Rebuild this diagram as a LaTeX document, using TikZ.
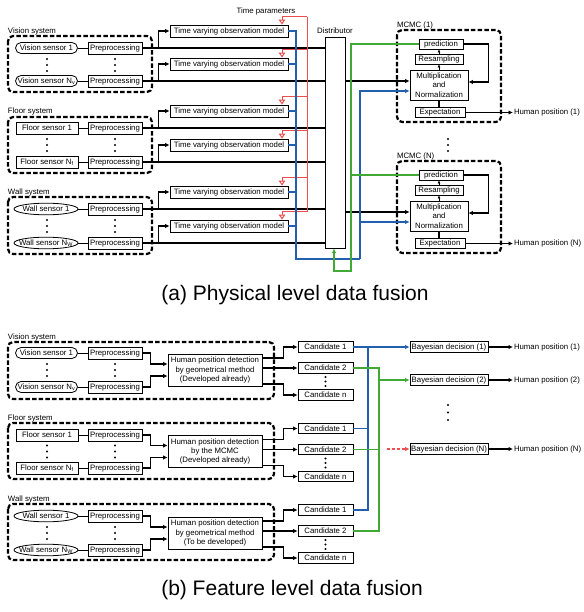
\documentclass[tikz,border=0pt]{standalone}
\usepackage{fontspec}
\setmainfont{Liberation Sans}
\usetikzlibrary{arrows.meta}
\definecolor{lnblue}{RGB}{35,95,175}
\definecolor{lngreen}{RGB}{65,170,55}
\definecolor{lnred}{RGB}{238,78,78}
\begin{document}
\begin{tikzpicture}[x=1pt,y=-1pt,
 every node/.style={font=\fontsize{7.8}{9.3}\selectfont, inner sep=0.8pt},
 box/.style={draw, line width=0.8pt, fill=white, minimum height=11pt},
 ppbox/.style={box, minimum width=54pt, minimum height=12pt},
 tvbox/.style={box, minimum width=118pt, minimum height=12pt},
 vsens/.style={box, rounded corners=5.5pt, minimum width=62pt},
 fsens/.style={box, minimum width=62pt, minimum height=12pt},
 wsens/.style={minimum width=64pt, minimum height=11pt},
 cand/.style={box, minimum width=55pt, minimum height=10.5pt},
 bayes/.style={box, minimum width=78pt, minimum height=10.5pt},
 detbox/.style={box, minimum width=94pt, minimum height=32pt, align=center},
 sysbox/.style={draw, line width=2.2pt, dash pattern=on 4.5pt off 2.2pt, rounded corners=5pt},
 syslabel/.style={anchor=west},
 thin/.style={line width=0.9pt},
 conn/.style={line width=1.1pt},
 arr/.style={conn, -{Latex[length=4.5pt,width=4.5pt]}},
 sarr/.style={line width=0.8pt, -{Latex[length=3pt,width=3pt]}},
 bline/.style={lnblue, line width=1.2pt},
 barr/.style={bline, -{Latex[length=4.5pt,width=4.5pt]}},
 gline/.style={lngreen, line width=1.2pt},
 garr/.style={gline, -{Latex[length=4.5pt,width=4.5pt]}},
 rline/.style={lnred, line width=1pt},
 rarr/.style={rline, -{Triangle[open,length=5pt,width=6.5pt]}},
 rdash/.style={lnred, line width=1.3pt, dash pattern=on 3pt off 2pt, -{Latex[length=4.5pt,width=4.5pt]}},
 title/.style={font=\fontsize{21}{25}\selectfont},
]
\useasboundingbox (0,0) rectangle (583,612);

% ================= (a) =================
% Vision
\node[syslabel] (avl) at (7,31) {Vision system};
\draw[sysbox] (8,36) rectangle (152,92);
\node[vsens] (avs1) at (46.5,48) {Vision sensor 1};
\node[ppbox] (avp1) at (115,48) {Preprocessing};
\node[vsens] (avs2) at (46.5,81) {Vision sensor N\textsubscript{v}};
\node[ppbox] (avp2) at (115,81) {Preprocessing};
% Floor
\node[syslabel] (afl) at (7,111) {Floor system};
\draw[sysbox] (8,117) rectangle (152,173);
\node[fsens] (afs1) at (47,128) {Floor sensor 1};
\node[ppbox] (afp1) at (115,128) {Preprocessing};
\node[fsens] (afs2) at (47,162) {Floor sensor N\textsubscript{f}};
\node[ppbox] (afp2) at (115,162) {Preprocessing};
% Wall
\node[syslabel] (awl) at (7,192) {Wall system};
\draw[sysbox] (8,197) rectangle (152,254);
\node[wsens] (aws1) at (46,209) {Wall sensor 1};
\node[ppbox] (awp1) at (115,209) {Preprocessing};
\node[wsens] (aws2) at (46,243) {Wall sensor N\textsubscript{W}};
\node[ppbox] (awp2) at (115,243) {Preprocessing};
\draw[line width=0.8pt] (aws1.center) ellipse [x radius=32pt, y radius=5.8pt];
\draw[line width=0.8pt] (aws2.center) ellipse [x radius=32pt, y radius=5.8pt];

\foreach \s/\p in {avs1/avp1,avs2/avp2,afs1/afp1,afs2/afp2,aws1/awp1,aws2/awp2}
  \draw[thin] (\s) -- (\p);
\foreach \yy in {59,65,71,139,145,151,220,226,232} {
  \fill (47,\yy) circle[radius=1.1pt];
  \fill (115,\yy) circle[radius=1.1pt];
}

% time varying observation models
\node[tvbox] (t1) at (229,31) {Time varying observation model};
\node[tvbox] (t2) at (229,64) {Time varying observation model};
\node[tvbox] (t3) at (229,111) {Time varying observation model};
\node[tvbox] (t4) at (229,145) {Time varying observation model};
\node[tvbox] (t5) at (229,192) {Time varying observation model};
\node[tvbox] (t6) at (229,226) {Time varying observation model};

% distributor
\node[box, minimum width=20pt, minimum height=211pt] (dist) at (335,142.5) {};
\node (distl) at (335,31) {Distributor};

\foreach \p in {avp1,avp2,afp1,afp2,awp1,awp2}
  \draw[conn] (\p.east) -- (\p.east -| dist.west);
\foreach \p/\t in {avp1/t1,avp2/t2,afp1/t3,afp2/t4,awp1/t5,awp2/t6}
  \draw[arr] ([xshift=16pt]\p.east) |- (\t.west);

% time parameters (red)
\node (tp) at (266,11) {Time parameters};
\coordinate (rtop) at (307,17);
\coordinate (rbot) at (307,212);
\draw[rline] (rtop) -- (rbot);
\foreach \t/\yy in {t1/17,t2/50,t3/97,t4/131,t5/178,t6/212}
  \draw[rarr] (307,\yy) -| ([xshift=53pt]\t.north);

% MCMC blocks
\foreach \i/\dy in {1/0,N/131} {
  \draw[sysbox] (397,{30+\dy}) rectangle (501,{122+\dy});
  \node[syslabel] (ml\i) at (396,{25+\dy}) {MCMC (\i)};
  \node[box, minimum width=44pt, minimum height=10pt] (p\i) at (441,{44+\dy}) {prediction};
  \node[box, minimum width=48pt, minimum height=10pt] (r\i) at (439,{59+\dy}) {Resampling};
  \node[box, minimum width=58pt, minimum height=30pt, align=center] (m\i) at (439,{85+\dy}) {Multiplication\\and\\Normalization};
  \node[box, minimum width=50pt, minimum height=10pt] (e\i) at (440,{112.5+\dy}) {Expectation};
  \node[anchor=west] (h\i) at (513,{112.5+\dy}) {Human position (\i)};
  \draw[sarr] (m\i.north) -- (r\i.south);
  \draw[sarr] (r\i.north) -- (r\i.north |- p\i.south);
  \draw[arr] (p\i.east) -- ++(25,0) |- ([yshift=3pt]m\i.east);
  \draw[conn] (m\i.south) -- (m\i.south |- e\i.north);
  \draw[arr] (e\i.east) -- (h\i.west);
}
\foreach \yy in {139,145,151} \fill (448,\yy) circle[radius=1.1pt];

% distributor outputs (black)
\coordinate (m1k) at ([yshift=4pt]m1.west);
\coordinate (mNk) at ([yshift=4pt]mN.west);
\draw[arr] (dist.east |- m1k) -- (m1k);
\draw[arr] (dist.east |- mNk) -- (mNk);

% blue bus
\coordinate (bb1) at (296,259);
\coordinate (bb2) at (360,259);
\coordinate (m1b) at ([yshift=-6pt]m1.west);
\coordinate (mNb) at ([yshift=-6pt]mN.west);
\draw[bline] (t1.east) -| (bb1) -- (bb2);
\foreach \t in {t2,t3,t4,t5,t6}
  \draw[bline] (\t.east) -- (\t.east -| bb1);
\draw[barr] (bb2) |- (m1b);
\draw[barr] (bb2 |- mNb) -- (mNb);

% green feedback
\coordinate (gb1) at (351,271);
\coordinate (gb2) at (334,271);
\draw[garr] (p1.west) -| (gb1) -- (gb2) -- (gb2 |- dist.south);
\draw[gline] (pN.west) -- (pN.west -| gb1);

\node[title] (ta) at (295,295) {(a) Physical level data fusion};

% ================= (b) =================
% Vision
\node[syslabel] (bvl) at (7,337) {Vision system};
\draw[sysbox] (8,342) rectangle (274,399);
\node[vsens] (bv-s1) at (46.5,353) {Vision sensor 1};
\node[ppbox] (bv-p1) at (115,353) {Preprocessing};
\node[vsens] (bv-s2) at (46.5,387) {Vision sensor N\textsubscript{v}};
\node[ppbox] (bv-p2) at (115,387) {Preprocessing};
\node[detbox] (bv-d) at (215,370) {Human position detection\\by geometrical method\\(Developed already)};
\node[cand] (bv-c1) at (325.5,347) {Candidate 1};
\node[cand] (bv-c2) at (325.5,368) {Candidate 2};
\node[cand] (bv-cn) at (325.5,395) {Candidate n};
% Floor
\node[syslabel] (bfl) at (7,418) {Floor system};
\draw[sysbox] (8,423) rectangle (274,479);
\node[fsens] (bf-s1) at (47,435) {Floor sensor 1};
\node[ppbox] (bf-p1) at (115,435) {Preprocessing};
\node[fsens] (bf-s2) at (47,468) {Floor sensor N\textsubscript{f}};
\node[ppbox] (bf-p2) at (115,468) {Preprocessing};
\node[detbox] (bf-d) at (215,451.5) {Human position detection\\by the MCMC\\(Developed already)};
\node[cand] (bf-c1) at (325.5,428.5) {Candidate 1};
\node[cand] (bf-c2) at (325.5,449.5) {Candidate 2};
\node[cand] (bf-cn) at (325.5,476.5) {Candidate n};
% Wall
\node[syslabel] (bwl) at (7,499) {Wall system};
\draw[sysbox] (8,504) rectangle (274,560);
\node[wsens] (bw-s1) at (46,516) {Wall sensor 1};
\node[ppbox] (bw-p1) at (115,516) {Preprocessing};
\node[wsens] (bw-s2) at (46,550) {Wall sensor N\textsubscript{W}};
\node[ppbox] (bw-p2) at (115,550) {Preprocessing};
\draw[line width=0.8pt] (bw-s1.center) ellipse [x radius=32pt, y radius=5.8pt];
\draw[line width=0.8pt] (bw-s2.center) ellipse [x radius=32pt, y radius=5.8pt];
\node[detbox] (bw-d) at (215,533) {Human position detection\\by geometrical method\\(To be developed)};
\node[cand] (bw-c1) at (325.5,510) {Candidate 1};
\node[cand] (bw-c2) at (325.5,531) {Candidate 2};
\node[cand] (bw-cn) at (325.5,558) {Candidate n};

\foreach \g/\c in {bv/370,bf/451.5,bw/533} {
  \draw[thin] (\g-s1) -- (\g-p1);
  \draw[thin] (\g-s2) -- (\g-p2);
  \draw[arr] (\g-p1.east) -- ++(8,0) |- ([yshift=6pt]\g-d.west);
  \draw[arr] (\g-p2.east) -- ++(8,0) |- ([yshift=-6pt]\g-d.west);
  \draw[arr] ([yshift=12pt]\g-d.east) -- ++(21,0) |- (\g-c1.west);
  \draw[arr] (\g-d.east |- \g-c2.west) -- (\g-c2.west);
  \draw[arr] ([yshift=-14pt]\g-d.east) -- ++(21,0) |- (\g-cn.west);
  \foreach \o in {-6,0,6} {
    \fill (47,{\c+\o}) circle[radius=1.1pt];
    \fill (115,{\c+\o}) circle[radius=1.1pt];
  }
  \foreach \o in {7,11.5,16} \fill (325.5,{\c+\o}) circle[radius=1.1pt];
}

% Bayesian decisions
\node[bayes] (bay1) at (449,347) {Bayesian decision (1)};
\node[bayes] (bay2) at (449,380) {Bayesian decision (2)};
\node[bayes] (bayN) at (449,449) {Bayesian decision (N)};
\node[anchor=west] (hb1) at (513,347) {Human position (1)};
\node[anchor=west] (hb2) at (513,380) {Human position (2)};
\node[anchor=west] (hbN) at (513,449) {Human position (N)};
\draw[arr] (bay1.east) -- (hb1.west);
\draw[arr] (bay2.east) -- (hb2.west);
\draw[arr] (bayN.east) -- (hbN.west);
\foreach \yy in {405,412.5,420} \fill (448,\yy) circle[radius=1.1pt];

% blue / green buses
\coordinate (bxt) at (368,347);
\draw[barr] (bv-c1.east) -- (bay1.west);
\draw[bline] (bf-c1.east) -| (bxt);
\draw[bline] (bw-c1.east) -| (bxt);
\coordinate (gxt) at (379,368);
\draw[garr] (bv-c2.east) -- (gxt) |- (bay2.west);
\draw[gline] (bf-c2.east) -| (gxt);
\draw[gline] (bw-c2.east) -| (gxt);
\coordinate (rstart) at (387,449);
\draw[rdash] (rstart) -- (bayN.west);

\node[title] (tb) at (292,590) {(b) Feature level data fusion};
\end{tikzpicture}
\end{document}
